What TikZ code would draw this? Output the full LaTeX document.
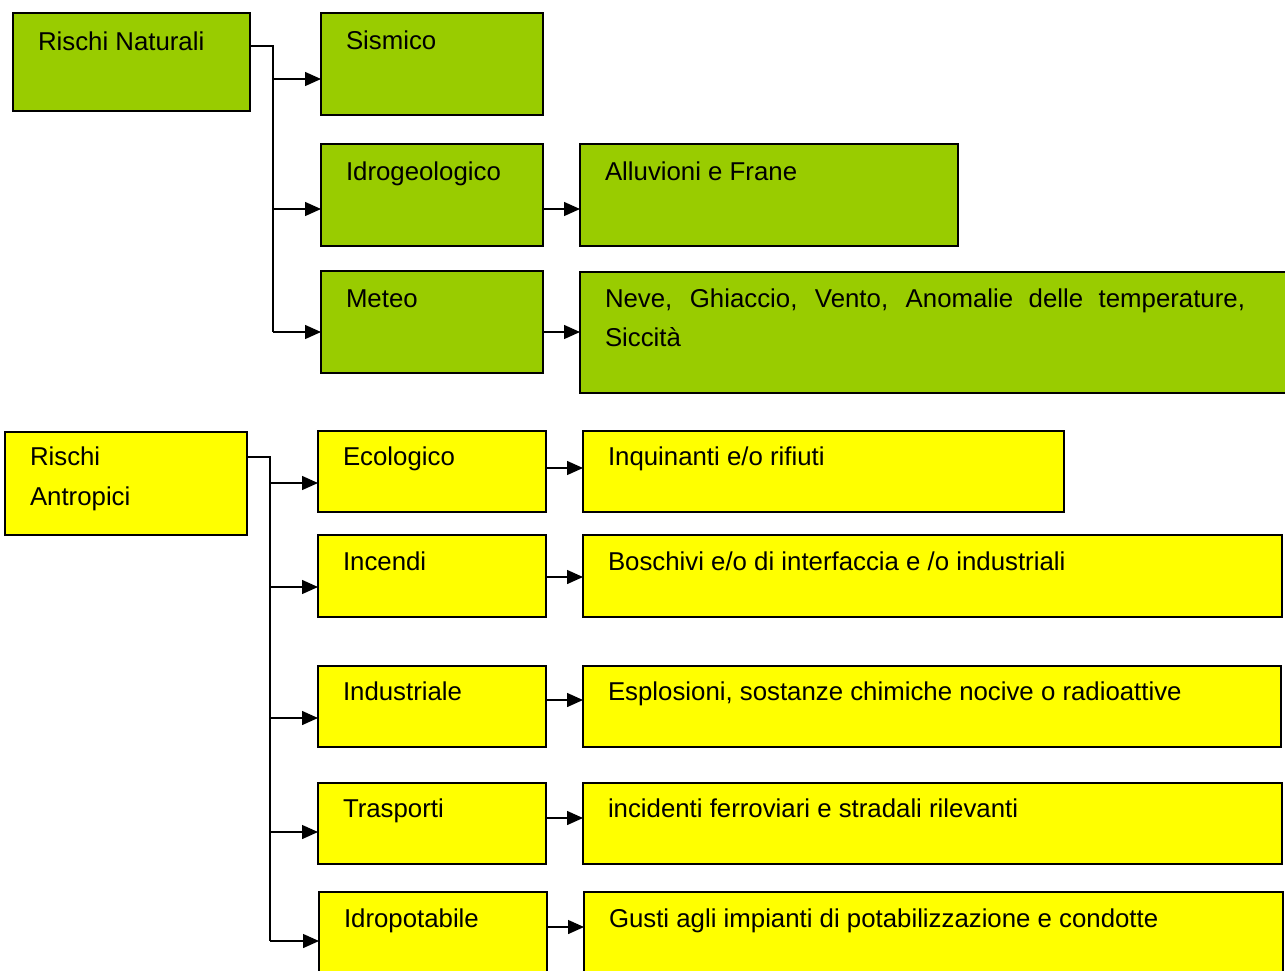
\documentclass[tikz,border=0pt]{standalone}
\usepackage{fontspec}
\setmainfont{Liberation Sans}
\usetikzlibrary{arrows.meta}
\definecolor{natgreen}{HTML}{99CC00}
\definecolor{antyellow}{HTML}{FFFF00}
\newcommand\bxt[4]{\parbox[t][#2pt][t]{#1pt}{\leftskip=25pt\rule{0pt}{#3pt}#4}}
\tikzset{
  rbox/.style={draw=black, line width=1.4pt, anchor=north west, inner sep=0pt, outer sep=0pt,
    font=\fontsize{25.8}{39}\selectfont},
  nat/.style={rbox, fill=natgreen},
  ant/.style={rbox, fill=antyellow},
  link/.style={line width=1.4pt, draw=black},
  arr/.style={link, -{Triangle[length=16pt,width=14pt]}}
}
\begin{document}
\begin{tikzpicture}[x=1pt,y=-1pt]
\useasboundingbox (0,0) rectangle (1285,970);
\clip (0,0) rectangle (1285,970);
% Rischi Naturali
\node[nat] (rn)   at (13,13)   {\bxt{237}{98}{37}{Rischi Naturali}};
\node[nat] (sis)  at (321,13)  {\bxt{222}{102}{36}{Sismico}};
\node[nat] (idro) at (321,144) {\bxt{222}{102}{36}{Idrogeologico}};
\node[nat] (allu) at (580,144) {\bxt{378}{102}{36}{Alluvioni e Frane}};
\node[nat] (met)  at (321,271) {\bxt{222}{102}{36}{Meteo}};
\node[nat] (neve) at (580,272) {\bxt{730}{121}{35}{\makebox[640pt][s]{Neve, Ghiaccio, Vento, Anomalie delle temperature,}\\Siccità}};
% Rischi Antropici
\node[ant] (ra)   at (5,432)   {\bxt{242}{103}{33}{Rischi\\[1pt]Antropici}};
\node[ant] (eco)  at (318,431) {\bxt{228}{81}{34}{Ecologico}};
\node[ant] (inq)  at (583,431) {\bxt{481}{81}{34}{Inquinanti e/o rifiuti}};
\node[ant] (inc)  at (318,535) {\bxt{228}{82}{35}{Incendi}};
\node[ant] (bos)  at (583,535) {\bxt{699}{82}{35}{Boschivi e/o di interfaccia e /o industriali}};
\node[ant] (ind)  at (318,666) {\bxt{228}{81}{34}{Industriale}};
\node[ant] (esp)  at (583,666) {\bxt{698}{81}{34}{Esplosioni, sostanze chimiche nocive o radioattive}};
\node[ant] (tra)  at (318,783) {\bxt{228}{81}{34}{Trasporti}};
\node[ant] (inci) at (583,783) {\bxt{699}{81}{34}{incidenti ferroviari e stradali rilevanti}};
\node[ant] (idp)  at (319,892) {\bxt{228}{100}{35}{Idropotabile}};
\node[ant] (gus)  at (584,892) {\bxt{699}{100}{35}{Gusti agli impianti di potabilizzazione e condotte}};
% trunk coordinates (natural)
\coordinate (n0) at (273,46);
\coordinate (n1) at (273,79);
\coordinate (n2) at (273,209);
\coordinate (n3) at (273,332);
\draw[link] (rn.east |- n0) -- (n0) -- (n3);
\draw[arr] (n1) -- (sis.west |- n1);
\draw[arr] (n2) -- (idro.west |- n2);
\draw[arr] (n3) -- (met.west |- n3);
\draw[arr] (idro.east |- n2) -- (allu.west |- n2);
\draw[arr] (met.east |- n3) -- (neve.west |- n3);
% trunk coordinates (antropici)
\coordinate (a0) at (270,457);
\coordinate (a1) at (270,483);
\coordinate (a2) at (270,587);
\coordinate (a3) at (270,718);
\coordinate (a4) at (270,832);
\coordinate (a5) at (270,941);
\draw[link] (ra.east |- a0) -- (a0) -- (a5);
\draw[arr] (a1) -- (eco.west |- a1);
\draw[arr] (a2) -- (inc.west |- a2);
\draw[arr] (a3) -- (ind.west |- a3);
\draw[arr] (a4) -- (tra.west |- a4);
\draw[arr] (a5) -- (idp.west |- a5);
% second-level
\coordinate (b1) at (560,468);
\coordinate (b2) at (560,577);
\coordinate (b3) at (560,700);
\coordinate (b4) at (560,818);
\coordinate (b5) at (560,927);
\draw[arr] (eco.east |- b1) -- (inq.west |- b1);
\draw[arr] (inc.east |- b2) -- (bos.west |- b2);
\draw[arr] (ind.east |- b3) -- (esp.west |- b3);
\draw[arr] (tra.east |- b4) -- (inci.west |- b4);
\draw[arr] (idp.east |- b5) -- (gus.west |- b5);
\end{tikzpicture}
\end{document}
